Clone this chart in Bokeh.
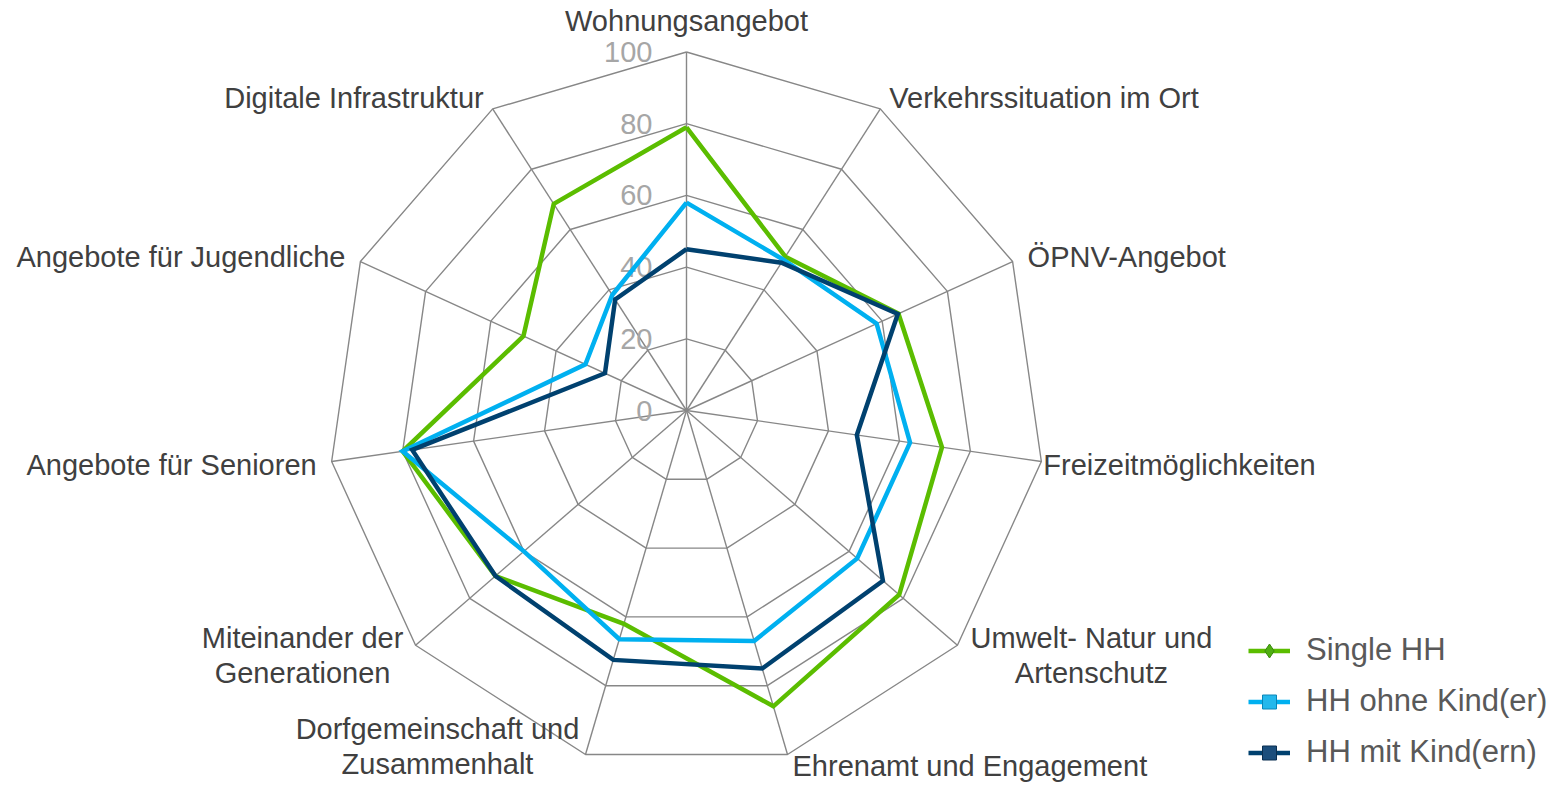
import numpy as np
from bokeh.plotting import figure
from bokeh.models import Range1d, Legend, LegendItem, ColumnDataSource
from bokeh.core.properties import value
from bokeh.embed import file_html
from bokeh.resources import INLINE

# ---------------- data ----------------
categories = [
    "Wohnungsangebot",
    "Verkehrssituation im Ort",
    "ÖPNV-Angebot",
    "Freizeitmöglichkeiten",
    "Umwelt- Natur und\nArtenschutz",
    "Ehrenamt und Engagement",
    "Dorfgemeinschaft und\nZusammenhalt",
    "Miteinander der\nGenerationen",
    "Angebote für Senioren",
    "Angebote für Jugendliche",
    "Digitale Infrastruktur",
]
single_hh = [79, 51, 65, 72, 78.5, 86, 62, 70.5, 80, 50, 68.5]
hh_ohne_kind = [58, 50, 58.3, 63, 63, 67, 66.5, 60, 80, 31, 38.3]
hh_mit_kind = [45, 49, 64.8, 48, 72.5, 75, 72.5, 70.5, 77.3, 25, 36.8]
series_names = ["Single HH", "HH ohne Kind(er)", "HH mit Kind(ern)"]
tick_values = [0, 20, 40, 60, 80, 100]
tick_labels = ["0", "20", "40", "60", "80", "100"]

# ---------------- layout / style ----------------
W, H = 1549, 782
PX = 3.585            # pixels per value unit
CX, CY = 686, 410     # centre of radar in figure pixels
FONT = "Liberation Sans"
GRID = "#878787"
colors = ["#5BBD00", "#00B0F0", "#00416F"]
mark_fill = ["#4FAE12", "#24B8EC", "#1B4E7C"]
mark_line = ["#3A8A0C", "#0A86B8", "#0B2F50"]
markers = ["diamond", "square", "square"]

n = len(categories)
theta = 2 * np.pi * np.arange(n) / n
sx, cy_ = np.sin(theta), np.cos(theta)

p = figure(width=W, height=H, output_backend="svg", toolbar_location=None,
           x_range=Range1d(-CX / PX, (W - CX) / PX),
           y_range=Range1d(-(H - CY) / PX, CY / PX),
           min_border=0, background_fill_color="white", border_fill_color="white")
p.axis.visible = False
p.grid.visible = False
p.outline_line_color = None

# rings
ring_xs = [list(np.append(v * sx, v * sx[0])) for v in tick_values[1:]]
ring_ys = [list(np.append(v * cy_, v * cy_[0])) for v in tick_values[1:]]
p.multi_line(ring_xs, ring_ys, line_color=GRID, line_width=1.4)
# spokes
top = tick_values[-1]
p.segment(x0=np.zeros(n), y0=np.zeros(n), x1=top * sx, y1=top * cy_,
          line_color=GRID, line_width=1.4)

# tick labels
p.text(x=np.zeros(len(tick_values)), y=tick_values, text=tick_labels,
       text_align="right", text_baseline="middle", x_offset=-34,
       text_font=value(FONT), text_font_size="29px", text_color="#A6A6A6")

all_series = [single_hh, hh_ohne_kind, hh_mit_kind]

# legend marker renderers (size 0 on the chart, drawn beneath the lines)
mark_renderers = []
for vals, mk, mf, ml in zip(all_series, markers, mark_fill, mark_line):
    v = np.array(vals, dtype=float)
    mark_renderers.append(p.scatter(x=v * sx, y=v * cy_, marker=mk, size=0,
                                    fill_color=mf, line_color=ml, line_width=1))

# series lines
legend_items = []
for vals, name, col, r_mark in zip(all_series, series_names, colors, mark_renderers):
    v = np.array(vals, dtype=float)
    xs = np.append(v * sx, v[0] * sx[0])
    ys = np.append(v * cy_, v[0] * cy_[0])
    r_line = p.line(xs, ys, line_color=col, line_width=4.5, line_join="miter")
    legend_items.append(LegendItem(label=name, renderers=[r_line, r_mark]))

# category labels
lab_x_off = [0, 9, 15, 2, 134, 5, -148, -113, -15, -15, -9]
lab_y_off = [-31, -11, -5, 3, 10, 12, -8, 10, 3, -5, -11]
lab_align = ["center", "left", "left", "left", "center", "left", "center", "center",
             "right", "right", "right"]
lab_src = ColumnDataSource(dict(x=top * sx, y=top * cy_, text=categories,
                                xo=lab_x_off, yo=lab_y_off, al=lab_align))
p.text(x="x", y="y", text="text", source=lab_src, x_offset="xo", y_offset="yo",
       text_align="al", text_baseline="middle", text_font=value(FONT),
       text_font_size="29px", text_color="#404040", text_line_height=1.1)

legend = Legend(items=legend_items, location=(1248, 12), orientation="vertical",
                border_line_color=None, background_fill_alpha=0, padding=0, margin=0,
                glyph_width=42, glyph_height=35, label_standoff=16, spacing=15,
                label_text_font=FONT, label_text_font_size="31px",
                label_text_color="#595959")
p.add_layout(legend)

open("out.html", "w").write(file_html(p, INLINE))
